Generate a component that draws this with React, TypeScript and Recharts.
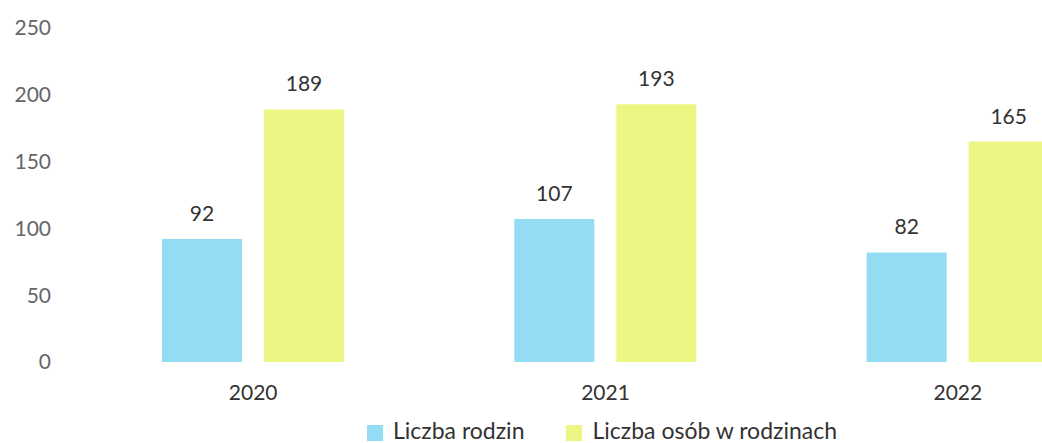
import React from "react";
import { BarChart, Bar, XAxis, YAxis, Legend, LabelList } from "recharts";

const years = ["2020", "2021", "2022"];
const families = [92, 107, 82];
const persons = [189, 193, 165];
const yTicks = [0, 50, 100, 150, 200, 250];
const seriesOrder = ["Liczba rodzin", "Liczba osób w rodzinach"];

const data = years.map((y, i) => ({ year: y, rodziny: families[i], osoby: persons[i] }));

const FONT = "Lato, 'Open Sans', sans-serif";

export default function App() {
  return (
    <div style={{ position: "absolute", left: 0, top: 0, width: 1042, height: 443, overflow: "hidden", background: "#fff" }}>
      <BarChart
        width={1150}
        height={470}
        data={data}
        margin={{ top: 28, right: 16, bottom: 0, left: 0 }}
        barCategoryGap={85}
        barGap={22}
        style={{ fontFamily: FONT }}
      >
        <XAxis
          dataKey="year"
          axisLine={false}
          tickLine={false}
          height={56}
          tickMargin={17}
          tick={{ fill: "#333", fontSize: 21, fontFamily: FONT }}
        />
        <YAxis
          width={77}
          domain={[0, 250]}
          ticks={yTicks}
          axisLine={false}
          tickLine={false}
          tickMargin={20}
          tick={{ fill: "#666", fontSize: 21, fontFamily: FONT }}
        />
        <Legend
          verticalAlign="bottom"
          height={52}
          iconType="square"
          iconSize={16}
          itemSorter={(item: any) => seriesOrder.indexOf(item.value)}
          wrapperStyle={{ fontFamily: FONT, fontSize: 23, color: "#333", lineHeight: "24px", left: 40 }}
          formatter={(v) => (
            <span style={{ color: "#333", marginLeft: 6, marginRight: v === seriesOrder[0] ? 32 : 0 }}>{v}</span>
          )}
        />
        <Bar dataKey="rodziny" name="Liczba rodzin" fill="#93dcf3" isAnimationActive={false}>
          <LabelList dataKey="rodziny" position="top" offset={18} style={{ fill: "#333", fontSize: 21, fontFamily: FONT }} />
        </Bar>
        <Bar dataKey="osoby" name="Liczba osób w rodzinach" fill="#ecf783" isAnimationActive={false}>
          <LabelList dataKey="osoby" position="top" offset={18} style={{ fill: "#333", fontSize: 21, fontFamily: FONT }} />
        </Bar>
      </BarChart>
    </div>
  );
}
